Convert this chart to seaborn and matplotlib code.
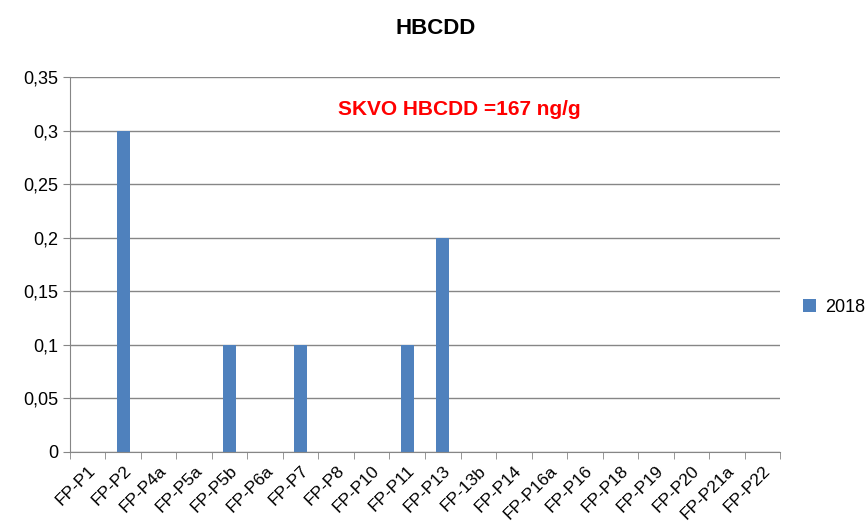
import seaborn as sns
import matplotlib.pyplot as plt
import pandas as pd
import numpy as np

sites = ["FP-P1", "FP-P2", "FP-P4a", "FP-P5a", "FP-P5b", "FP-P6a", "FP-P7", "FP-P8",
         "FP-P10", "FP-P11", "FP-P13", "FP-13b", "FP-P14", "FP-P16a", "FP-P16",
         "FP-P18", "FP-P19", "FP-P20", "FP-P21a", "FP-P22"]
values_2018 = [0, 0.3, 0, 0, 0.1, 0, 0.1, 0, 0, 0.1, 0.2, 0, 0, 0, 0, 0, 0, 0, 0, 0]
yticks = [0, 0.05, 0.1, 0.15, 0.2, 0.25, 0.3, 0.35]
ytick_labels = ["0", "0,05", "0,1", "0,15", "0,2", "0,25", "0,3", "0,35"]

df = pd.DataFrame({"site": sites, "value": values_2018, "year": "2018"})

sns.set_style("white")
plt.rcParams["font.family"] = ["Liberation Sans", "DejaVu Sans"]
plt.rcParams["text.color"] = "black"
plt.rcParams["xtick.color"] = "black"
plt.rcParams["ytick.color"] = "black"

fig = plt.figure(figsize=(8.67, 5.31), dpi=100)
ax = fig.add_axes([0.0807, 0.1488, 0.819, 0.7062])

sns.barplot(data=df, x="site", y="value", hue="year", palette=["#4f81bd"],
            width=0.37, saturation=1, linewidth=0, ax=ax, legend=True)

n = len(sites)
ax.set_xlim(-0.5, n - 0.5)
ax.set_ylim(0, 0.35)
ax.set_yticks(yticks)
ax.set_yticklabels(ytick_labels, fontsize=13)
ax.yaxis.grid(True, color="#868686", linewidth=1)
ax.set_axisbelow(True)
ax.set_xticks(range(n))
ax.set_xticklabels(sites, rotation=45, ha="right", rotation_mode="anchor", fontsize=12.5)
ax.set_xticks(np.arange(-0.5, n, 1), minor=True)
ax.tick_params(axis="x", which="major", length=0, pad=8)
ax.tick_params(axis="x", which="minor", length=5, color="#868686", bottom=True)
ax.tick_params(axis="y", length=5, color="#868686", left=True, labelcolor="black")
ax.tick_params(axis="x", labelcolor="black")
ax.set_xlabel("")
ax.set_ylabel("")
for s in ["top", "right"]:
    ax.spines[s].set_visible(False)
for s in ["left", "bottom"]:
    ax.spines[s].set_color("#868686")

ax.text(0.549, 0.912, "SKVO HBCDD =167 ng/g", transform=ax.transAxes, color="#ff0000",
        fontsize=15, fontweight="bold", ha="center", va="center")
fig.text(0.503, 0.947, "HBCDD", fontsize=16, fontweight="bold", ha="center", va="center",
         color="black")

ax.legend(loc="center left", bbox_to_anchor=(1.01, 0.385), frameon=False, fontsize=13,
          handlelength=0.7, handleheight=0.7, handletextpad=0.5)

fig.savefig("out.png", dpi=100)
